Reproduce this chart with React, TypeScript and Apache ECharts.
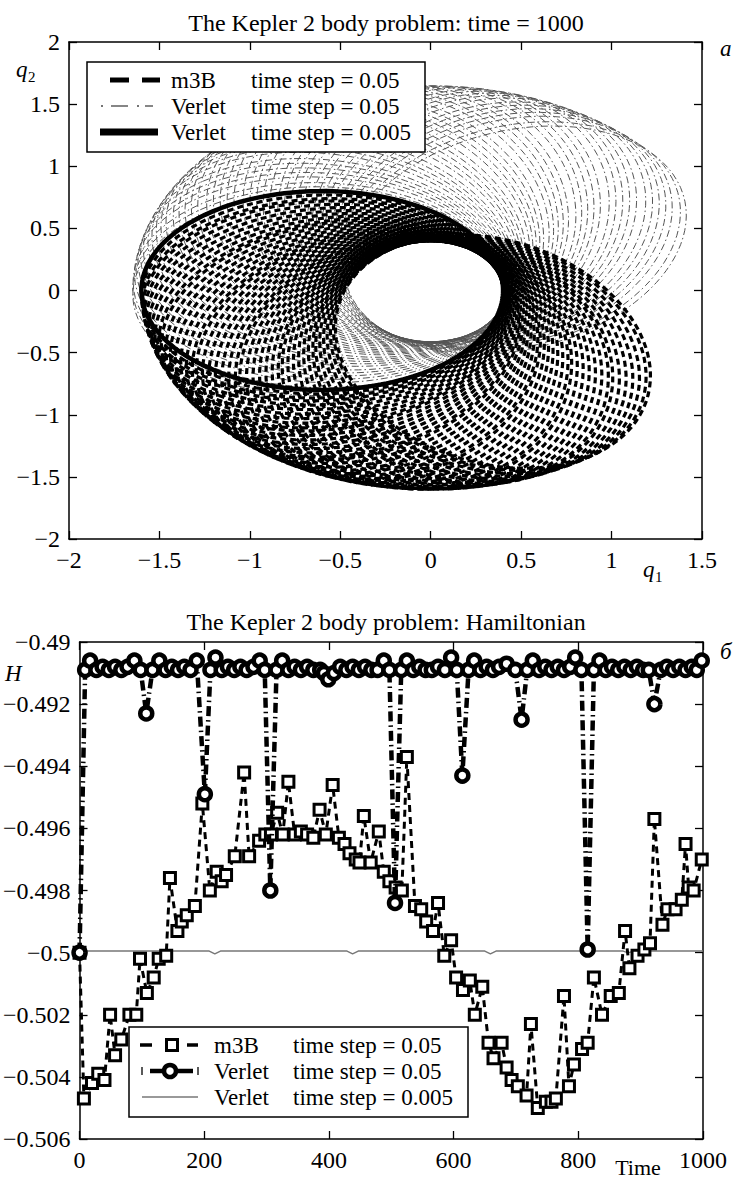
import React, { useEffect, useRef } from "react";
import * as echarts from "echarts";

const FONT = '"Liberation Serif", "Times New Roman", serif';

// ---------- Top panel: orbits (q1, q2) ----------
const titleTop = "The Kepler 2 body problem: time = 1000";
const titleBottom = "The Kepler 2 body problem: Hamiltonian";
const orbitEccentricity = 0.6;
const exactSemiMajor = 1.0;
const m3bSemiMajor = 1.0;
const verletCoarseSemiMajor = 1.03;
// direction of the apoapsis of each drawn orbit (degrees)
const exactApoapsisDeg = [180];
const m3bApoapsisDeg = [
  180, 183, 186, 188, 191, 194, 197, 200, 203, 206, 208, 211, 214, 217, 220,
  223, 226, 228, 231, 234, 237, 240, 243, 246, 248, 251, 254, 257, 260, 263,
  266, 268, 271, 274, 277, 280, 283, 286, 288, 291, 294, 297, 300, 303, 305,
];
const verletCoarseApoapsisDeg = [
  182, 179, 176, 172, 169, 166, 163, 160, 156, 153, 150, 147, 144, 140, 137,
  134, 131, 128, 124, 121, 118, 115, 112, 108, 105, 102, 99, 96, 92, 89,
  86, 83, 80, 76, 73, 70, 67, 64, 60, 57, 54, 51, 48, 44, 41,
];

// ---------- Bottom panel: Hamiltonian vs time ----------
const m3bH: [number, number][] = [
  [0, -0.5], [7, -0.5047], [20, -0.5042], [30, -0.5039], [40, -0.5041], [49, -0.502],
  [57, -0.5033], [67, -0.5028], [80, -0.502], [91, -0.502], [97, -0.5002], [108, -0.5013],
  [119, -0.5008], [127, -0.5002], [139, -0.5001], [145, -0.4976], [157, -0.4993], [164, -0.499],
  [172, -0.4988], [185, -0.4985], [197, -0.4952], [209, -0.498], [220, -0.4974], [228, -0.4977],
  [235, -0.4975], [249, -0.4969], [264, -0.4942], [272, -0.4969], [288, -0.4964], [298, -0.4962],
  [307, -0.4962], [317, -0.4955], [326, -0.4962], [335, -0.4945], [345, -0.4962], [355, -0.4961],
  [365, -0.4962], [375, -0.4963], [385, -0.4954], [395, -0.4962], [406, -0.4946], [416, -0.4963],
  [425, -0.4965], [433, -0.4968], [443, -0.497], [449, -0.4971], [456, -0.4956], [467, -0.4971],
  [480, -0.4961], [488, -0.4974], [497, -0.4977], [507, -0.4979], [517, -0.498], [525, -0.4937],
  [538, -0.4985], [548, -0.4986], [556, -0.499], [567, -0.4993], [575, -0.4984], [585, -0.5001],
  [596, -0.4996], [604, -0.5008], [615, -0.5012], [626, -0.5009], [634, -0.502], [646, -0.5011],
  [656, -0.5029], [664, -0.5034], [677, -0.5029], [685, -0.5037], [693, -0.5041], [703, -0.5043],
  [717, -0.5046], [724, -0.5023], [735, -0.505], [748, -0.5048], [757, -0.5048], [764, -0.5047],
  [777, -0.5014], [785, -0.5043], [793, -0.5036], [806, -0.5031], [815, -0.5029], [825, -0.5008],
  [838, -0.502], [852, -0.5014], [865, -0.5013], [875, -0.4993], [882, -0.5005], [895, -0.5001],
  [906, -0.4999], [915, -0.4997], [922, -0.4957], [935, -0.4991], [943, -0.4986], [956, -0.4986],
  [966, -0.4983], [972, -0.4965], [977, -0.4979], [985, -0.498], [998, -0.497],
];
const verletCoarseH: [number, number][] = [
  [0, -0.5], [9, -0.4909], [17, -0.4906], [27, -0.4909], [37, -0.4908], [47, -0.4909],
  [57, -0.4908], [67, -0.4909], [77, -0.4908], [88, -0.4906], [98, -0.4909], [107, -0.4923],
  [117, -0.4909], [128, -0.4906], [138, -0.4909], [148, -0.4908], [158, -0.4909], [168, -0.4908],
  [178, -0.4909], [188, -0.4906], [201, -0.4949], [210, -0.4909], [218, -0.4905], [228, -0.4909],
  [238, -0.4908], [248, -0.4909], [258, -0.4908], [268, -0.4909], [279, -0.4908], [289, -0.4906],
  [297, -0.4909], [306, -0.498], [316, -0.4909], [325, -0.4906], [335, -0.4909], [345, -0.4908],
  [355, -0.4909], [365, -0.4908], [375, -0.4909], [386, -0.4909], [392, -0.491], [399, -0.4912],
  [408, -0.491], [418, -0.4908], [428, -0.4909], [438, -0.4908], [448, -0.4909], [458, -0.4908],
  [468, -0.4909], [478, -0.4909], [488, -0.4906], [497, -0.4909], [506, -0.4984], [516, -0.4909],
  [525, -0.4906], [535, -0.4909], [545, -0.4908], [555, -0.4909], [565, -0.4909], [575, -0.4908],
  [586, -0.4909], [596, -0.4905], [605, -0.4909], [614, -0.4943], [624, -0.4909], [633, -0.4906],
  [643, -0.4909], [653, -0.4908], [663, -0.4909], [673, -0.4908], [685, -0.4907], [699, -0.4909],
  [709, -0.4925], [718, -0.4909], [727, -0.4906], [737, -0.4909], [747, -0.4908], [757, -0.4909],
  [767, -0.4908], [777, -0.4909], [787, -0.4908], [795, -0.4905], [805, -0.4909], [815, -0.4999],
  [825, -0.4909], [834, -0.4906], [844, -0.4909], [854, -0.4908], [864, -0.4909], [874, -0.4908],
  [884, -0.4909], [894, -0.4908], [904, -0.4909], [913, -0.4909], [922, -0.492], [932, -0.4909],
  [942, -0.4908], [952, -0.4909], [962, -0.4908], [972, -0.4909], [982, -0.4908], [990, -0.4909],
  [998, -0.4906],
];
const verletFineH: [number, number][] = [
  [0, -0.49995], [100, -0.49995], [208, -0.49995], [217, -0.50004], [226, -0.49995],
  [429, -0.49995], [438, -0.50004], [447, -0.49995], [650, -0.49995], [659, -0.50004],
  [668, -0.49995], [872, -0.49995], [880, -0.50001], [888, -0.49995], [1000, -0.49995],
];

const legendLabels = ["m3B", "Verlet", "Verlet"];
const legendSteps = ["time step = 0.05", "time step = 0.05", "time step = 0.005"];

function ellipse(a: number, apoDeg: number): number[][] {
  const e = orbitEccentricity;
  const p = a * (1 - e * e);
  const phi = ((apoDeg - 180) * Math.PI) / 180;
  const pts: number[][] = [];
  for (let k = 0; k <= 180; k++) {
    const nu = (k * 2 * Math.PI) / 180;
    const r = p / (1 + e * Math.cos(nu));
    pts.push([r * Math.cos(nu + phi), r * Math.sin(nu + phi)]);
  }
  return pts;
}

const fmt = (v: number) => String(parseFloat(v.toFixed(4))).replace("-", "\u2212");

function txt(x: number, y: number, text: string, size: number, opts: any = {}) {
  return {
    type: "text",
    x,
    y,
    z: 100,
    style: {
      text,
      fontSize: size,
      fontFamily: FONT,
      fontStyle: opts.italic ? "italic" : "normal",
      fill: "#000",
      align: opts.align || "left",
      verticalAlign: "middle",
      textAlign: opts.align || "left",
      textVerticalAlign: "middle",
    },
  };
}

function axisCommon(showLabel: boolean) {
  return {
    type: "value",
    axisLine: { show: true, onZero: false, lineStyle: { color: "#000", width: 1.5 } },
    axisTick: { show: true, inside: true, length: 8, lineStyle: { color: "#000", width: 1.3 } },
    axisLabel: {
      show: showLabel,
      formatter: fmt,
      fontSize: 24,
      fontFamily: FONT,
      color: "#000",
      margin: 9,
      showMinLabel: true,
      showMaxLabel: true,
    },
    splitLine: { show: false },
  };
}

export default function App() {
  const ref = useRef<HTMLDivElement>(null);
  useEffect(() => {
    if (!ref.current) return;
    const chart = echarts.init(ref.current, undefined, { renderer: "svg" });

    const orbitSeries = (apos: number[], a: number, lineStyle: any, z: number) =>
      apos.map((deg) => ({
        type: "line",
        xAxisIndex: 0,
        yAxisIndex: 0,
        data: ellipse(a, deg),
        symbol: "none",
        showSymbol: false,
        silent: true,
        z,
        lineStyle,
      }));

    const series: any[] = [
      ...orbitSeries(verletCoarseApoapsisDeg, verletCoarseSemiMajor, { color: "#555", width: 1, type: [7, 3, 1.5, 3] }, 2),
      ...orbitSeries(m3bApoapsisDeg, m3bSemiMajor, { color: "#000", width: 3.2, type: [6, 4] }, 3),
      ...orbitSeries(exactApoapsisDeg, exactSemiMajor, { color: "#000", width: 4.5, type: "solid" }, 4),
      {
        type: "line",
        xAxisIndex: 2,
        yAxisIndex: 2,
        data: verletFineH,
        symbol: "none",
        showSymbol: false,
        z: 2,
        lineStyle: { color: "#777", width: 1.4 },
      },
      {
        type: "line",
        xAxisIndex: 2,
        yAxisIndex: 2,
        data: m3bH,
        symbol: "rect",
        symbolSize: 11,
        showSymbol: true,
        showAllSymbol: true,
        clip: false,
        z: 3,
        lineStyle: { color: "#000", width: 3, type: [7, 5] },
        itemStyle: { color: "#fff", borderColor: "#000", borderWidth: 3 },
      },
      {
        type: "line",
        xAxisIndex: 2,
        yAxisIndex: 2,
        data: verletCoarseH,
        symbol: "circle",
        symbolSize: 12,
        showSymbol: true,
        showAllSymbol: true,
        clip: false,
        z: 4,
        lineStyle: { color: "#000", width: 4.5, type: [10, 4, 1.5, 4] },
        itemStyle: { color: "#fff", borderColor: "#000", borderWidth: 4.5 },
      },
    ];

    const g: any[] = [];
    // titles
    g.push(txt(386, 23, titleTop, 24, { align: "center" }));
    g.push(txt(386, 622, titleBottom, 24, { align: "center" }));
    // axis names & panel letters
    g.push(txt(16, 69, "q", 23, { italic: true }));
    g.push(txt(28, 77, "2", 15));
    g.push(txt(643, 569, "q", 23, { italic: true }));
    g.push(txt(655, 577, "1", 15));
    g.push(txt(720, 48, "a", 23, { italic: true }));
    g.push(txt(5, 673, "H", 23, { italic: true }));
    g.push(txt(720, 651, "\u0431", 23, { italic: true }));
    g.push(txt(638, 1167, "Time", 22, { align: "center" }));

    // top legend
    const tRows = [80, 106, 132];
    g.push({ type: "rect", z: 90, shape: { x: 87, y: 62, width: 338, height: 90 }, style: { fill: "#fff", stroke: "#000", lineWidth: 1.5 } });
    g.push({ type: "line", z: 95, shape: { x1: 110, y1: tRows[0], x2: 129, y2: tRows[0] }, style: { stroke: "#000", lineWidth: 5 } });
    g.push({ type: "line", z: 95, shape: { x1: 142, y1: tRows[0], x2: 160, y2: tRows[0] }, style: { stroke: "#000", lineWidth: 5 } });
    g.push({ type: "line", z: 95, shape: { x1: 101, y1: tRows[1], x2: 103, y2: tRows[1] }, style: { stroke: "#444", lineWidth: 1.3 } });
    g.push({ type: "line", z: 95, shape: { x1: 111, y1: tRows[1], x2: 128, y2: tRows[1] }, style: { stroke: "#444", lineWidth: 1.3 } });
    g.push({ type: "line", z: 95, shape: { x1: 137, y1: tRows[1], x2: 139, y2: tRows[1] }, style: { stroke: "#444", lineWidth: 1.3 } });
    g.push({ type: "line", z: 95, shape: { x1: 145, y1: tRows[1], x2: 153, y2: tRows[1] }, style: { stroke: "#444", lineWidth: 1.3 } });
    g.push({ type: "line", z: 95, shape: { x1: 100, y1: tRows[2], x2: 158, y2: tRows[2] }, style: { stroke: "#000", lineWidth: 7 } });
    tRows.forEach((y, i) => {
      g.push(txt(171, y, legendLabels[i], 23));
      g.push(txt(251, y, legendSteps[i], 23));
    });

    // bottom legend
    const bRows = [1045, 1071, 1097];
    g.push({ type: "rect", z: 90, shape: { x: 129, y: 1027, width: 339, height: 90 }, style: { fill: "#fff", stroke: "#000", lineWidth: 1.5 } });
    g.push({ type: "line", z: 95, shape: { x1: 140, y1: bRows[0], x2: 152, y2: bRows[0] }, style: { stroke: "#000", lineWidth: 3.5 } });
    g.push({ type: "line", z: 95, shape: { x1: 187, y1: bRows[0], x2: 198, y2: bRows[0] }, style: { stroke: "#000", lineWidth: 3.5 } });
    g.push({ type: "rect", z: 96, shape: { x: 166.5, y: bRows[0] - 5.5, width: 11, height: 11 }, style: { fill: "#fff", stroke: "#000", lineWidth: 3 } });
    g.push({ type: "line", z: 95, shape: { x1: 142, y1: bRows[1] - 4, x2: 142, y2: bRows[1] + 4 }, style: { stroke: "#000", lineWidth: 1.3 } });
    g.push({ type: "line", z: 95, shape: { x1: 150, y1: bRows[1], x2: 193, y2: bRows[1] }, style: { stroke: "#000", lineWidth: 4.5 } });
    g.push({ type: "line", z: 95, shape: { x1: 198, y1: bRows[1] - 4, x2: 198, y2: bRows[1] + 4 }, style: { stroke: "#000", lineWidth: 1.3 } });
    g.push({ type: "circle", z: 96, shape: { cx: 170, cy: bRows[1], r: 6 }, style: { fill: "#fff", stroke: "#000", lineWidth: 4.5 } });
    g.push({ type: "line", z: 95, shape: { x1: 142, y1: bRows[2], x2: 198, y2: bRows[2] }, style: { stroke: "#777", lineWidth: 1.4 } });
    bRows.forEach((y, i) => {
      g.push(txt(214, y, legendLabels[i], 23));
      g.push(txt(293, y, legendSteps[i], 23));
    });

    const option: any = {
      animation: false,
      backgroundColor: "#fff",
      grid: [
        { left: 69, top: 42, width: 633, height: 497, show: false },
        { left: 69, top: 642, width: 634, height: 497, show: false },
      ],
      xAxis: [
        { ...axisCommon(true), gridIndex: 0, position: "bottom", min: -2, max: 1.5, interval: 0.5 },
        { ...axisCommon(false), gridIndex: 0, position: "top", min: -2, max: 1.5, interval: 0.5 },
        { ...axisCommon(true), gridIndex: 1, position: "bottom", min: 0, max: 1000, interval: 200 },
        { ...axisCommon(false), gridIndex: 1, position: "top", min: 0, max: 1000, interval: 200 },
      ],
      yAxis: [
        { ...axisCommon(true), gridIndex: 0, position: "left", min: -2, max: 2, interval: 0.5 },
        { ...axisCommon(false), gridIndex: 0, position: "right", min: -2, max: 2, interval: 0.5 },
        { ...axisCommon(true), gridIndex: 1, position: "left", min: -0.506, max: -0.49, interval: 0.002 },
        { ...axisCommon(false), gridIndex: 1, position: "right", min: -0.506, max: -0.49, interval: 0.002 },
      ],
      series,
      graphic: g,
    };
    chart.setOption(option);
    return () => chart.dispose();
  }, []);
  return (
    <div
      ref={ref}
      style={{ position: "absolute", left: 0, top: 0, width: 733, height: 1178, background: "#fff" }}
    />
  );
}
